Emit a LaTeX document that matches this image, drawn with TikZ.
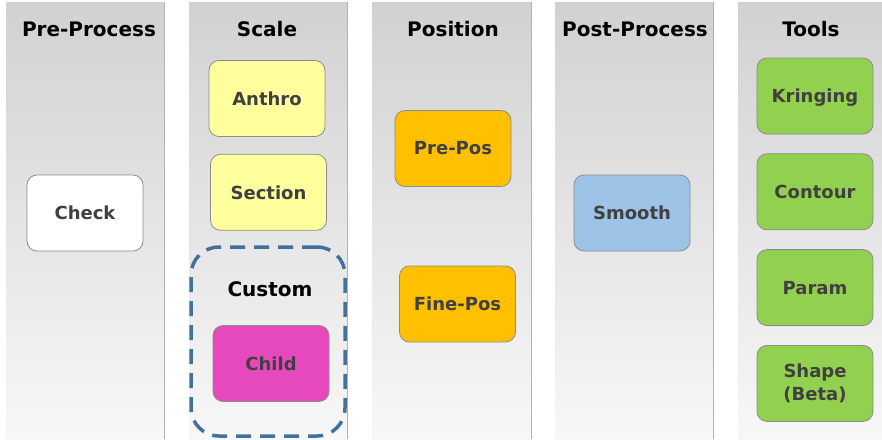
\documentclass[tikz,border=0pt]{standalone}
\usepackage{fontspec}
\setmainfont{DejaVu Sans}
\usepackage{xcolor}
\usetikzlibrary{positioning}

\definecolor{boxtext}{HTML}{404040}
\definecolor{boxline}{HTML}{8C8C8C}
\definecolor{custline}{HTML}{41719C}
\definecolor{yellowfill}{HTML}{FFFF9E}
\definecolor{orangefill}{HTML}{FFC000}
\definecolor{pinkfill}{HTML}{E649BE}
\definecolor{bluefill}{HTML}{9DC3E6}
\definecolor{greenfill}{HTML}{92D050}

\begin{document}
\begin{tikzpicture}[
				x=1pt, y=-1pt,
				panel/.style={top color=black!18, bottom color=black!3, draw=none},
				panelline/.style={draw=black!30, line width=1pt},
				header/.style={font=\fontsize{20}{22}\selectfont\bfseries, text=black, anchor=base},
				stepbox/.style={rectangle, rounded corners=10pt, draw=boxline, line width=0.8pt, minimum width=116pt, minimum height=76pt, font=\fontsize{18}{23}\selectfont\bfseries, text=boxtext, align=center},
				custombox/.style={rectangle, rounded corners=28pt, draw=custline, line width=3.5pt, dash pattern=on 15pt off 9pt, minimum width=154pt, minimum height=189pt},
				node distance = 19pt,
				]
				\useasboundingbox (0,0) rectangle (882,439);
				
				%Panels
				\foreach \left/\right in {6/164, 189/347, 372/531, 555/713}{
					\shade[panel] (\left,2) rectangle (\right,439);
					\draw[panelline] (\right,2) -- (\right,439);
				}
				\shade[panel] (738,2) rectangle (882,439);
				
				%Headers
				\node[header](hpre) at (89,36){Pre-Process};
				\node[header](hscale) at (267,36){Scale};
				\node[header](hpos) at (453,36){Position};
				\node[header](hpost) at (635,36){Post-Process};
				\node[header](htools) at (811,36){Tools};
				
				%Nodes
				\node[stepbox, fill=white](check) at (85,213){Check};
				\node[stepbox, fill=yellowfill](anthro) at (267,98.5){Anthro};
				\node[stepbox, fill=yellowfill](section)[below=17pt of anthro, xshift=1.5pt]{Section};
				\node[custombox](custom) at (268,341.5){};
				\node[header](custlabel) at (270,296){Custom};
				\node[stepbox, fill=pinkfill](child) at (271,363.5){Child};
				\node[stepbox, fill=orangefill](prepos) at (453,148.5){Pre-Pos};
				\node[stepbox, fill=orangefill](finepos) at (457.5,304){Fine-Pos};
				\node[stepbox, fill=bluefill](smooth) at (632,213){Smooth};
				\node[stepbox, fill=greenfill, text depth=0pt](kring) at (815,96){Kringing};
				\node[stepbox, fill=greenfill](contour)[below=of kring]{Contour};
				\node[stepbox, fill=greenfill](param)[below=of contour]{Param};
				\node[stepbox, fill=greenfill](shape)[below=of param]{Shape\\(Beta)};
				
			\end{tikzpicture}
\end{document}
